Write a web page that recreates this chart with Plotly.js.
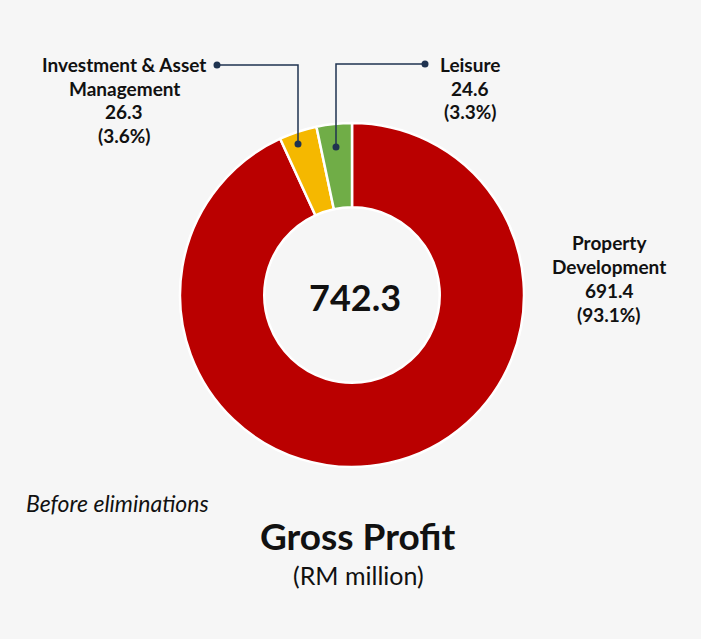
<!DOCTYPE html>
<html>
<head>
<meta charset="utf-8">
<script src="https://cdn.plot.ly/plotly-3.0.1.min.js"></script>
<style>html,body{margin:0;padding:0;background:#f6f6f6;}#chart{width:701px;height:639px;}</style>
</head>
<body>
<div id="chart"></div>
<script>
// Data
const segments = ["Property Development", "Investment & Asset Management", "Leisure"];
const labelLines = [["Property", "Development"], ["Investment & Asset", "Management"], ["Leisure"]];
const values = [691.4, 26.3, 24.6];
const percents = ["93.1%", "3.6%", "3.3%"];
const colors = ["#BA0000", "#F5B800", "#70AD47"];
const total = "742.3";
const chartTitle = "Gross Profit";
const chartUnit = "(RM million)";
const footnote = "Before eliminations";

const W = 701, H = 639;
const px = x => x / W;
const py = y => 1 - y / H;
const FONT = "Lato, 'Open Sans', sans-serif";

// label anchor positions (pixel centres, first line y) – layout only
const labelPos = [
  {x: 609, y: 242},
  {x: 124, y: 64},
  {x: 470, y: 64}
];
const lineGap = 24;

const annotations = [];
segments.forEach((s, i) => {
  const lines = labelLines[i].concat([values[i].toFixed(1), "(" + percents[i] + ")"]);
  lines.forEach((t, j) => {
    annotations.push({
      xref: "paper", yref: "paper",
      x: px(labelPos[i].x), y: py(labelPos[i].y + j * lineGap),
      text: "<b>" + t + "</b>", showarrow: false,
      xanchor: "center", yanchor: "middle",
      font: {family: FONT, size: 19, color: "#111"}
    });
  });
});
annotations.push({xref: "paper", yref: "paper", x: px(355), y: py(297), text: "<b>" + total + "</b>",
  showarrow: false, xanchor: "center", yanchor: "middle", font: {family: FONT, size: 36, color: "#111"}});
annotations.push({xref: "paper", yref: "paper", x: px(358), y: py(535), text: "<b>" + chartTitle + "</b>",
  showarrow: false, xanchor: "center", yanchor: "middle", font: {family: FONT, size: 37, color: "#111"}});
annotations.push({xref: "paper", yref: "paper", x: px(358), y: py(575), text: chartUnit,
  showarrow: false, xanchor: "center", yanchor: "middle", font: {family: FONT, size: 25, color: "#111"}});
annotations.push({xref: "paper", yref: "paper", x: px(24), y: py(503), text: "<i>" + footnote + "</i>",
  showarrow: false, xanchor: "left", yanchor: "middle", font: {family: FONT, size: 23, color: "#111"}});

// leader lines
const lineColor = "#1F3350";
const leaders = [
  [[298, 144], [298, 65], [217, 65]],
  [[336, 147], [336, 64], [425, 64]]
];
const shapes = [];
leaders.forEach(pts => {
  let path = "M " + pts.map(p => px(p[0]) + "," + py(p[1])).join(" L ");
  shapes.push({type: "path", xref: "paper", yref: "paper", path: path, line: {color: lineColor, width: 1.5}});
  [pts[0], pts[pts.length - 1]].forEach(p => {
    const r = 3.5;
    shapes.push({type: "circle", xref: "paper", yref: "paper",
      x0: px(p[0] - r), x1: px(p[0] + r), y0: py(p[1] + r), y1: py(p[1] - r),
      fillcolor: lineColor, line: {color: lineColor, width: 0}});
  });
});

const cx = 352, cy = 295, R = 172;
const data = [{
  type: "pie",
  labels: segments,
  values: values,
  sort: false,
  direction: "clockwise",
  rotation: 0,
  hole: 0.51,
  textinfo: "none",
  hoverinfo: "none",
  marker: {colors: colors, line: {color: "#ffffff", width: 2.5}},
  domain: {x: [px(cx - R), px(cx + R)], y: [py(cy + R), py(cy - R)]},
  showlegend: false
}];

const layout = {
  width: W, height: H,
  margin: {l: 0, r: 0, t: 0, b: 0},
  paper_bgcolor: "#f6f6f6",
  plot_bgcolor: "#f6f6f6",
  showlegend: false,
  annotations: annotations,
  shapes: shapes
};

Plotly.newPlot("chart", data, layout, {displayModeBar: false, staticPlot: true});
</script>
</body>
</html>
